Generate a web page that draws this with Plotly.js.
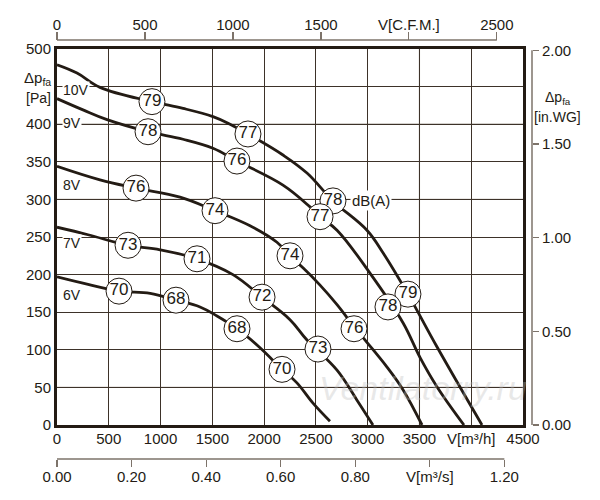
<!DOCTYPE html>
<html>
<head>
<meta charset="utf-8">
<script src="https://cdn.plot.ly/plotly-3.0.1.min.js"></script>
<style>
  html, body { margin: 0; padding: 0; background: #fff; }
  #chart { width: 600px; height: 500px; }
</style>
</head>
<body>
<div id="chart"></div>
<script>
// fan curves, V in m3/h, dp in Pa
const v10Flow = [0, 193, 415, 917, 1217, 1506, 1671, 1844, 2182, 2414, 2665, 2993, 3148, 3389, 3669, 4104];
const v10Pres = [479, 468, 449, 430, 421, 410, 400, 387, 359, 335, 298, 259, 229, 174, 104, 0];
const v9Flow = [0, 251, 483, 879, 1217, 1506, 1738, 2182, 2443, 2540, 2704, 3022, 3341, 3505, 3669, 3930];
const v9Pres = [434, 419, 406, 390, 380, 368, 351, 319, 290, 277, 259, 202, 136, 90, 51, 0];
const v8Flow = [0, 415, 763, 1188, 1526, 1864, 2124, 2260, 2375, 2540, 2704, 2878, 2993, 3187, 3341, 3525];
const v8Pres = [344, 326, 315, 303, 285, 265, 243, 223, 209, 186, 160, 129, 110, 77, 47, 0];
const v7Flow = [0, 300, 686, 995, 1352, 1699, 1980, 2250, 2414, 2704, 2897, 3051];
const v7Pres = [263, 253, 239, 233, 221, 200, 170, 140, 113, 73, 33, 0];
const v6Flow = [0, 300, 599, 900, 1149, 1381, 1545, 1738, 1950, 2173, 2317, 2472, 2636];
const v6Pres = [197, 187, 178, 175, 166, 157, 145, 128, 104, 74, 56, 29, 5];

// noise bubbles dB(A)
const v10DbFlow = [917, 1844, 2665, 3389];
const v10DbPres = [430, 387, 298, 174];
const v10Db = [79, 77, 78, 79];
const v9DbFlow = [879, 1738, 2540, 3196];
const v9DbPres = [390, 351, 277, 157];
const v9Db = [78, 76, 77, 78];
const v8DbFlow = [763, 1526, 2250, 2868];
const v8DbPres = [315, 285, 225, 128];
const v8Db = [76, 74, 74, 76];
const v7DbFlow = [686, 1352, 1980, 2520];
const v7DbPres = [239, 221, 170, 101];
const v7Db = [73, 71, 72, 73];
const v6DbFlow = [599, 1149, 1738, 2173];
const v6DbPres = [178, 166, 128, 74];
const v6Db = [70, 68, 68, 70];

const voltNames = ['10V', '9V', '8V', '7V', '6V'];
const voltLabelFlow = [45, 45, 45, 45, 45];
const voltLabelPres = [445, 402, 319, 242, 173];

// axis ticks
const m3hTicks = [0, 500, 1000, 1500, 2000, 2500, 3000, 3500, 4000, 4500];
const m3hLabels = ['0', '500', '1000', '1500', '2000', '2500', '3000', '3500', 'V[m³/h]', '4500'];
const paTicks = [0, 50, 100, 150, 200, 250, 300, 350, 400, 450, 500];
const paLabels = ['0', '50', '100', '150', '200', '250', '300', '350', '400', '', '500'];
const cfmTicks = [0, 500, 1000, 1500, 2000, 2500];
const cfmLabels = ['0', '500', '1000', '1500', 'V[C.F.M.]', '2500'];
const m3sTicks = [0, 0.2, 0.4, 0.6, 0.8, 1.0, 1.2];
const m3sLabels = ['0.00', '0.20', '0.40', '0.60', '0.80', 'V[m³/s]', '1.20'];
const inwgTicks = [0, 0.5, 1.0, 1.5, 2.0];
const inwgLabels = ['0.00', '0.50', '1.00', '1.50', '2.00'];

const M3H_PER_CFM = 1.699;
const M3H_PER_M3S = 3600;
const PA_PER_INWG = 249.09;

const INK = '#231b14';
const GRID = '#3d3229';
const FONT = 'Liberation Sans, Arial, sans-serif';

const curves = [
  [v10Flow, v10Pres, v10DbFlow, v10DbPres, v10Db],
  [v9Flow, v9Pres, v9DbFlow, v9DbPres, v9Db],
  [v8Flow, v8Pres, v8DbFlow, v8DbPres, v8Db],
  [v7Flow, v7Pres, v7DbFlow, v7DbPres, v7Db],
  [v6Flow, v6Pres, v6DbFlow, v6DbPres, v6Db],
];

const data = [];
curves.forEach(c => {
  data.push({
    x: c[0], y: c[1], mode: 'lines', type: 'scatter',
    line: {color: INK, width: 2.8, shape: 'spline', smoothing: 1.1},
    hoverinfo: 'skip',
  });
});
curves.forEach(c => {
  data.push({
    x: c[2], y: c[3], mode: 'markers+text', type: 'scatter',
    text: c[4].map(String), textposition: 'middle center',
    textfont: {family: FONT, size: 17, color: INK},
    marker: {size: 26, color: '#ffffff', line: {color: INK, width: 1}},
    hoverinfo: 'skip',
  });
});

// hidden traces so the secondary scales exist
data.push({x: v10Flow.map(v => v / M3H_PER_CFM), y: v10Pres, xaxis: 'x2', yaxis: 'y',
  mode: 'lines', line: {color: 'rgba(0,0,0,0)'}, hoverinfo: 'skip'});
data.push({x: v10Flow.map(v => v / M3H_PER_M3S), y: v10Pres, xaxis: 'x3', yaxis: 'y',
  mode: 'lines', line: {color: 'rgba(0,0,0,0)'}, hoverinfo: 'skip'});
data.push({x: v10Flow, y: v10Pres.map(p => p / PA_PER_INWG), xaxis: 'x', yaxis: 'y2',
  mode: 'lines', line: {color: 'rgba(0,0,0,0)'}, hoverinfo: 'skip'});

const tickFont = {family: FONT, size: 15, color: INK};
const secLine = '#7d736a';

const layout = {
  width: 600,
  height: 500,
  showlegend: false,
  paper_bgcolor: '#ffffff',
  plot_bgcolor: '#ffffff',
  margin: {l: 57, r: 68, t: 40, b: 41},
  xaxis: {
    domain: [0, 0.98105],
    range: [0, 4500],
    tickvals: m3hTicks, ticktext: m3hLabels,
    ticks: '', tickfont: tickFont, ticklabelstandoff: -2,
    showgrid: true, gridcolor: GRID, gridwidth: 1,
    zeroline: false,
    showline: true, linecolor: INK, linewidth: 3, mirror: true,
    anchor: 'y',
  },
  yaxis: {
    domain: [0.08115, 0.97852],
    range: [0, 500],
    tickvals: paTicks, ticktext: paLabels,
    ticks: '', tickfont: tickFont,
    showgrid: true, gridcolor: GRID, gridwidth: 1,
    zeroline: false,
    showline: true, linecolor: INK, linewidth: 3, mirror: true,
    anchor: 'x',
  },
  xaxis2: {
    overlaying: 'x', anchor: 'free', position: 1, side: 'top',
    range: [0, 4500 / M3H_PER_CFM],
    tickvals: cfmTicks, ticktext: cfmLabels,
    ticks: 'outside', ticklen: 8, tickcolor: secLine, tickwidth: 1.2,
    tickfont: tickFont, ticklabelstandoff: -4,
    showgrid: false, zeroline: false, showline: false,
  },
  xaxis3: {
    overlaying: 'x', anchor: 'free', position: 0, side: 'bottom',
    range: [0, 4500 / M3H_PER_M3S],
    tickvals: m3sTicks, ticktext: m3sLabels,
    ticks: 'outside', ticklen: 7, tickcolor: secLine, tickwidth: 1.2,
    tickfont: tickFont, ticklabelstandoff: -3,
    showgrid: false, zeroline: false, showline: false,
  },
  yaxis2: {
    overlaying: 'y', anchor: 'free', position: 1, side: 'right',
    range: [0, 500 / PA_PER_INWG],
    tickvals: inwgTicks, ticktext: inwgLabels,
    ticks: 'outside', ticklen: 6, tickcolor: secLine, tickwidth: 1.2,
    tickfont: tickFont,
    showgrid: false, zeroline: false, showline: false,
  },
  shapes: [
    // lighter grid lines
    {type: 'line', xref: 'x', yref: 'y', x0: 0, x1: 4500, y0: 50, y1: 50, line: {color: '#aaa49c', width: 1.2}, layer: 'below'},
    {type: 'line', xref: 'x', yref: 'y', x0: 0, x1: 4500, y0: 300, y1: 300, line: {color: '#aaa49c', width: 1.2}, layer: 'below'},
    {type: 'line', xref: 'x', yref: 'y', x0: 0, x1: 4500, y0: 400, y1: 400, line: {color: '#aaa49c', width: 1.2}, layer: 'below'},
    {type: 'line', xref: 'x', yref: 'y', x0: 3500, x1: 3500, y0: 0, y1: 500, line: {color: '#aaa49c', width: 1.2}, layer: 'below'},
    // secondary axis lines, first to last tick
    {type: 'line', xref: 'x2', yref: 'paper', x0: cfmTicks[0], x1: cfmTicks[cfmTicks.length - 1], y0: 1, y1: 1, line: {color: secLine, width: 1.5}},
    {type: 'line', xref: 'x3', yref: 'paper', x0: m3sTicks[0], x1: m3sTicks[m3sTicks.length - 1], y0: 0, y1: 0, line: {color: secLine, width: 1.5}},
    {type: 'line', xref: 'paper', yref: 'y2', x0: 1, x1: 1, y0: inwgTicks[0], y1: inwgTicks[inwgTicks.length - 1], line: {color: secLine, width: 1.5}},
  ],
  annotations: [
    {xref: 'paper', yref: 'paper', x: 0, y: 0.9093, xanchor: 'right', yanchor: 'middle', xshift: -4,
      text: 'Δp<sub>fa</sub>', showarrow: false, font: {family: FONT, size: 15, color: INK}},
    {xref: 'paper', yref: 'paper', x: 0, y: 0.862, xanchor: 'right', yanchor: 'middle', xshift: -4,
      text: '[Pa]', showarrow: false, font: {family: FONT, size: 14, color: INK}},
    {xref: 'paper', yref: 'paper', x: 1.0547, y: 0.8616, xanchor: 'center', yanchor: 'middle',
      text: 'Δp<sub>fa</sub>', showarrow: false, font: {family: FONT, size: 14, color: INK}},
    {xref: 'paper', yref: 'paper', x: 1.0547, y: 0.8162, xanchor: 'center', yanchor: 'middle',
      text: '[in.WG]', showarrow: false, font: {family: FONT, size: 14, color: INK}},
    {xref: 'x', yref: 'y', x: 2830, y: 299, xanchor: 'left', yanchor: 'middle',
      text: 'dB(A)', showarrow: false, bgcolor: '#ffffff', font: {family: FONT, size: 15, color: INK}},
    {xref: 'x', yref: 'y', x: 3534, y: 49, xanchor: 'center', yanchor: 'middle',
      text: 'Ventilatorry.ru', showarrow: false,
      font: {family: FONT, size: 34, color: 'rgba(190,190,190,0.35)', style: 'italic'}},
  ].concat(voltNames.map((n, i) => ({
    xref: 'x', yref: 'y', x: voltLabelFlow[i], y: voltLabelPres[i], xanchor: 'left', yanchor: 'middle',
    text: n, showarrow: false, bgcolor: '#ffffff', borderpad: 0,
    font: {family: FONT, size: 14, color: INK},
  }))),
};

Plotly.newPlot('chart', data, layout, {staticPlot: true, displayModeBar: false});
</script>
</body>
</html>
